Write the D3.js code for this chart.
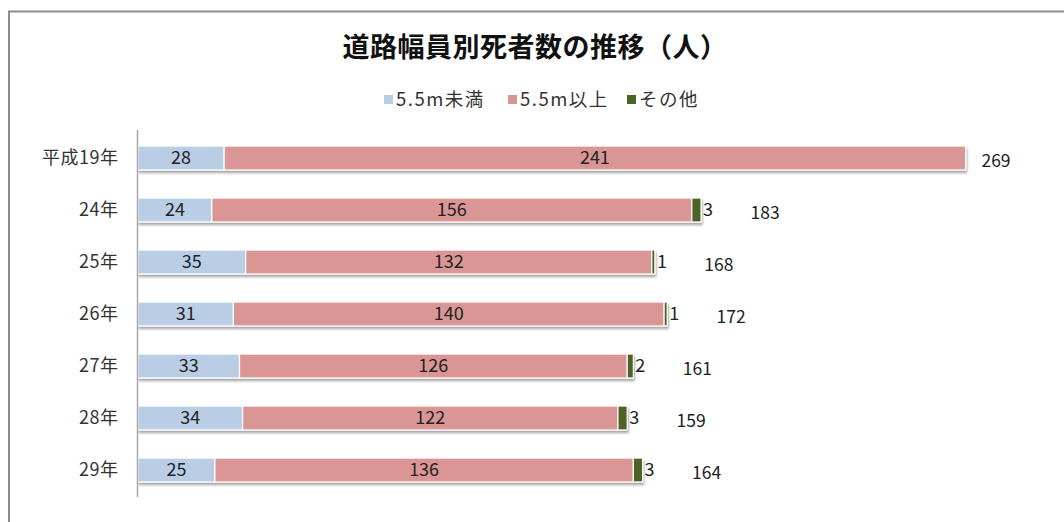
<!DOCTYPE html>
<html>
<head>
<meta charset="utf-8">
<script src="https://cdn.jsdelivr.net/npm/d3@7"></script>
<style>
  html, body { margin: 0; padding: 0; background: #fff; }
  svg { display: block; font-family: "Noto Sans CJK JP", "Noto Sans", sans-serif; }
</style>
</head>
<body>
<svg id="chart" width="1064" height="522"></svg>
<script>
const title = "道路幅員別死者数の推移（人）";
const years = ["平成19年", "24年", "25年", "26年", "27年", "28年", "29年"];
const seriesNames = ["5.5m未満", "5.5m以上", "その他"];
const narrow = [28, 24, 35, 31, 33, 34, 25];
const wide = [241, 156, 132, 140, 126, 122, 136];
const other = [0, 3, 1, 1, 2, 3, 3];
const totals = [269, 183, 168, 172, 161, 159, 164];
const colors = ["#b9cde5", "#d99694", "#4f6228"];

const svg = d3.select("#chart");
const width = +svg.attr("width");
const height = +svg.attr("height");

// 枠
svg.append("path")
    .attr("d", `M9,${height} V11.5 H${width}`)
    .attr("fill", "none")
    .attr("stroke", "#8c8c8c")
    .attr("stroke-width", 2);

// 影
const defs = svg.append("defs");
const shadow = defs.append("filter").attr("id", "shadow")
    .attr("x", "-5%").attr("y", "-20%").attr("width", "110%").attr("height", "160%");
shadow.append("feDropShadow")
    .attr("dx", 1).attr("dy", 2.5).attr("stdDeviation", 1.2)
    .attr("flood-color", "#000").attr("flood-opacity", 0.35);

svg.append("text")
    .attr("x", 535)
    .attr("y", 57)
    .attr("text-anchor", "middle")
    .attr("font-size", "27px")
    .attr("font-weight", "bold")
    .attr("letter-spacing", "0.5px")
    .attr("fill", "#111")
    .text(title);

// 凡例
const legendX = [384, 508, 627];
const legend = svg.append("g");
seriesNames.forEach((name, i) => {
    const item = legend.append("g").attr("transform", `translate(${legendX[i]},100)`);
    item.append("rect").attr("x", 0).attr("y", -5).attr("width", 9).attr("height", 9)
        .attr("fill", colors[i]);
    item.append("text").attr("x", 12).attr("y", 0).attr("dy", "0.35em")
        .attr("font-size", "18.5px").attr("letter-spacing", "1.5px")
        .attr("fill", "#333").text(name);
});

const x = d3.scaleLinear().domain([0, 300]).range([138, 1061]);
const y = d3.scaleBand().domain(years).range([132, 496])
    .paddingInner(0.54).paddingOuter(0.27);

const rows = years.map((yr, i) => ({ year: yr, vals: [narrow[i], wide[i], other[i]], total: totals[i] }));

const g = svg.append("g");
rows.forEach(r => {
    let acc = 0;
    const row = g.append("g").attr("filter", "url(#shadow)");
    r.vals.forEach((v, k) => {
        if (v > 0) {
            row.append("rect")
                .attr("x", x(acc))
                .attr("y", y(r.year))
                .attr("width", x(acc + v) - x(acc))
                .attr("height", y.bandwidth())
                .attr("fill", colors[k])
                .attr("stroke", "#fff")
                .attr("stroke-width", 1.2);
        }
        acc += v;
    });
});

// ラベル
rows.forEach(r => {
    const cy = y(r.year) + y.bandwidth() / 2;
    let acc = 0;
    r.vals.forEach((v, k) => {
        if (v > 0) {
            if (k < 2) {
                g.append("text")
                    .attr("x", (x(acc) + x(acc + v)) / 2)
                    .attr("y", cy).attr("dy", "0.36em")
                    .attr("text-anchor", "middle")
                    .attr("font-size", "18px").attr("fill", "#222")
                    .text(v);
            } else {
                g.append("text")
                    .attr("x", x(acc + v) + 2)
                    .attr("y", cy).attr("dy", "0.36em")
                    .attr("font-size", "18px").attr("fill", "#222")
                    .text(v);
            }
        }
        acc += v;
    });
    g.append("text")
        .attr("x", Math.min(x(r.total) + 64, 996))
        .attr("y", cy + 3).attr("dy", "0.36em")
        .attr("text-anchor", "middle")
        .attr("font-size", "17.5px").attr("fill", "#222")
        .text(r.total);
});

// 軸
const axis = svg.append("g")
    .attr("transform", "translate(137.5,0)")
    .call(d3.axisLeft(y).tickSize(0).tickPadding(19));
axis.select(".domain").attr("stroke", "#aaa").attr("stroke-width", 1.5)
    .attr("d", "M0,130V497");
axis.selectAll("text")
    .attr("font-size", "18px")
    .attr("letter-spacing", "0.5px")
    .attr("fill", "#333")
    .attr("font-family", "Noto Sans CJK JP, sans-serif");
</script>
</body>
</html>
